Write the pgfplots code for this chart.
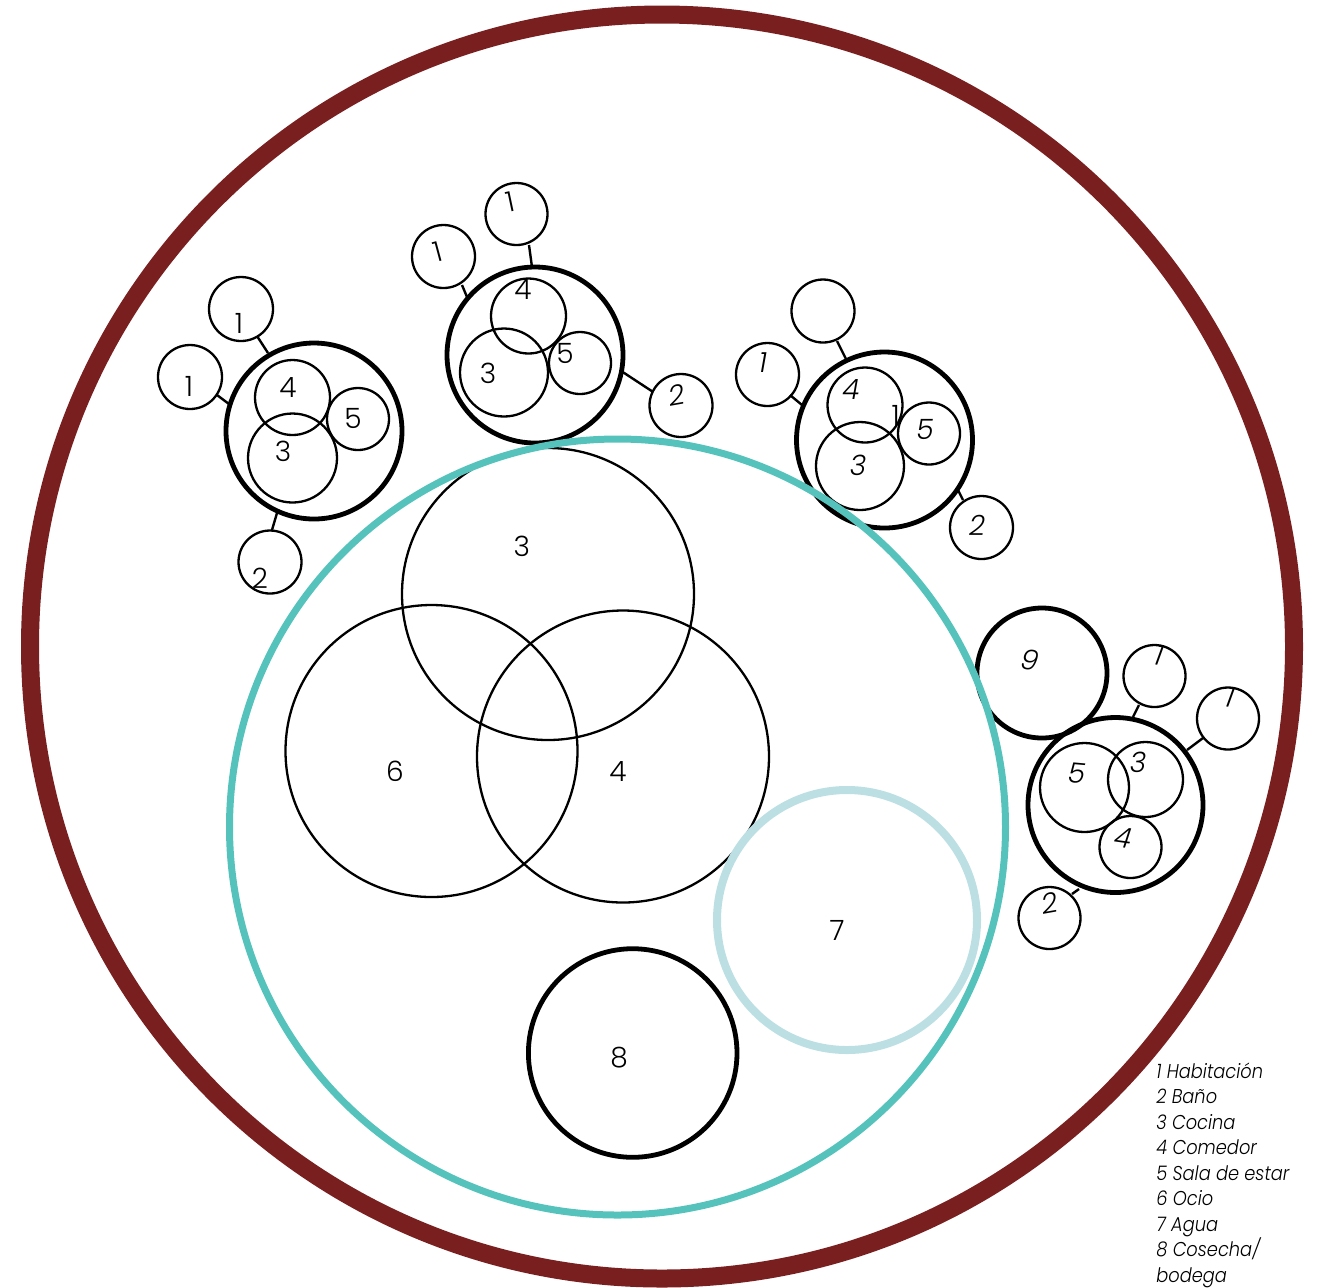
\documentclass[border=0pt]{standalone}
\usepackage{pgfplots}
\pgfplotsset{compat=1.18}
\usepackage{fontspec}
\setmainfont{Poppins}[UprightFont=* Light, ItalicFont=* Light Italic]
\newfontfamily\legfont{Poppins}[UprightFont=* Light, ItalicFont=* Light Italic, FakeStretch=0.89]
\definecolor{ringred}{HTML}{7A1F1F}
\definecolor{ringteal}{HTML}{55C3BC}
\definecolor{ringblue}{HTML}{BCDFE4}

\pgfplotsset{
  circ/.style n args={2}{only marks, scatter, mark=o, line width=#1,
    mark options={solid, line width=#1},
    scatter/use mapped color={draw=#2, fill=none},
    visualization depends on={0.5*\thisrow{r} \as \rad},
    scatter/@pre marker code/.append style={/tikz/mark size=\rad}},
  lbl/.style n args={2}{only marks, mark=*, mark size=0pt,
    mark options={draw=none, fill=none},
    nodes near coords, point meta=explicit symbolic,
    visualization depends on={\thisrow{a} \as \ang},
    every node near coord/.style={anchor=center, inner sep=0pt, text=black,
      rotate=\ang, font=\fontsize{#1}{#1}\selectfont#2}},
}

\begin{document}
\begin{tikzpicture}
\begin{axis}[x=0.5pt, y=0.5pt, xmin=0, xmax=1323, ymin=0, ymax=1287,
  y dir=reverse, scale only axis, clip=false,
  axis line style={draw=none}, xtick=\empty, ytick=\empty]

% outer ring
\addplot[circ={9pt}{ringred}] table {
x y r
662 646.5 632
};

% thin circles
\addplot[circ={1.15pt}{black}] table {
x y r
548 594 146
431.5 751 146
623 756.5 146
292.5 397.5 37.5
358 419 31
292.5 458 44.5
241 309 32
190 377 32
270 562 31.5
528.5 316 37.5
504 372.5 44
580 363 31
443.5 256.5 31.5
516.5 214 31
681 405.5 31.5
865 405 37.5
860 466 44
929 433.5 31
823 311 31.5
767.5 374.5 31.5
981.5 527.5 31.5
1084.5 787.5 44.5
1145.5 779.5 37.5
1130.5 847 31
1154.5 676 31
1228 718.5 31
1049.5 918 31
};

% thick circles
\addplot[circ={2.4pt}{black}] table {
x y r
314 431 88
535 355 88
884.5 440 88
1115.5 805 87.5
1042 673 65
632.7 1053 104.3
};

% connectors
\addplot[black, line width=1.2pt, mark=none, unbounded coords=jump] table {
x y
257 336
268 353
nan nan
217 395
229 404
nan nan
277 513
272 530
nan nan
462 285
467 297
nan nan
529 245
532 267
nan nan
622.7 372
652.7 391.7
nan nan
837 341
846 359
nan nan
790 395
802 405
nan nan
957 488
963 500
nan nan
1133 717
1139 705
nan nan
1187 750
1203 738
nan nan
1072 894
1079 889
};

% water ring
\addplot[circ={4pt}{ringblue}] table {
x y r
847 920 130
};

% teal ring
\addplot[circ={3.5pt}{ringteal}] table {
x y r
617.5 827 388
};

% upright labels
\addplot[lbl={14}{}] table[meta=t] {
x y t a
239 323 1 0
189 386 1 0
288 388 4 0
353 418 5 0
283 451 3 0
260 578 2 0
438 252 1 15
510 202 1 12
523 290 4 0
488 373 3 0
565 353 5 0
521.7 546.7 3 0
395 771.7 6 0
618 771.7 4 0
837 930.7 7 0
619 1058 8 0
895.7 415 1 0
};

% italic labels
\addplot[lbl={14}{\itshape}] table[meta=t] {
x y t a
677 395 2 10
763 363 1 0
851 390 4 0
858 465 3 0
925 429 5 0
977 525 2 0
1030 660 9 -10
1159 655 1 -10
1230 697 1 -10
1077 773 5 -5
1138 762 3 0
1123 838 4 -8
1050 903 2 10
};

% legend text
\addplot[only marks, mark=*, mark size=0pt, mark options={draw=none, fill=none},
  nodes near coords, point meta=explicit symbolic,
  every node near coord/.style={anchor=base west, inner sep=0pt, text=black,
    font=\legfont\fontsize{10}{10}\selectfont\itshape}]
  table[col sep=comma, meta=t] {
x,y,t
1156,1078,1 Habitación
1156,1103.5,2 Baño
1156,1129,3 Cocina
1156,1154.5,4 Comedor
1156,1180,5 Sala de estar
1156,1205.5,6 Ocio
1156,1231,7 Agua
1156,1256.5,8 Cosecha/
1156,1282,bodega
};

\end{axis}
\end{tikzpicture}
\end{document}
